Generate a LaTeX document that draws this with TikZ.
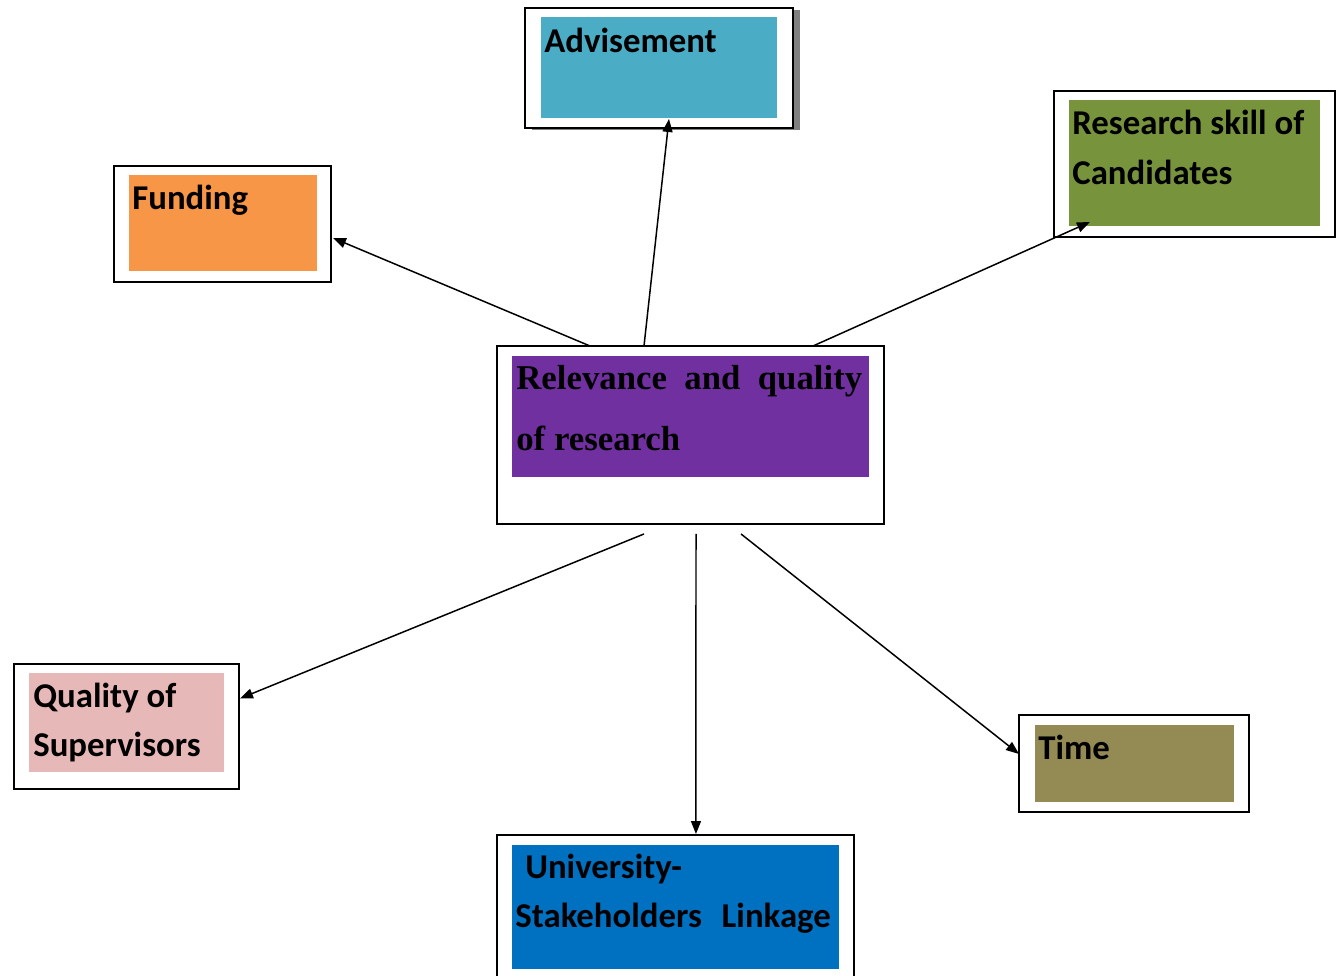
\documentclass[tikz,border=0pt]{standalone}
\usepackage{fontspec}
\setmainfont{Liberation Serif}
\newfontfamily\calibri{Carlito}
\usetikzlibrary{arrows.meta,calc,shadows}

\definecolor{advcol}{HTML}{4BACC6}
\definecolor{fundcol}{HTML}{F79646}
\definecolor{skillcol}{HTML}{77933C}
\definecolor{relcol}{HTML}{7030A0}
\definecolor{qualcol}{HTML}{E6B9B8}
\definecolor{timecol}{HTML}{948A54}
\definecolor{univcol}{HTML}{0070C0}

\tikzstyle{outer} = [draw, line width=1.1pt, fill=white, inner sep=0pt, outer sep=0pt, anchor=north west]
\tikzstyle{inner} = [inner sep=0pt, outer sep=0pt, anchor=north west]
\tikzstyle{lbl} = [inner sep=0pt, anchor=base west, text width=7cm, align=flush left,
  font=\calibri\bfseries\fontsize{19.8}{28.4}\selectfont]
\tikzstyle{arr} = [line width=0.85pt, -{Triangle[length=0.26cm, width=0.2cm]}]

\begin{document}
\begin{tikzpicture}[x=0.02cm, y=-0.02cm]
    \useasboundingbox (0,0) rectangle (1340,976);

    % boxes
    \node[outer, minimum width=5.36cm, minimum height=2.4cm,
      drop shadow={shadow xshift=0.14cm, shadow yshift=-0.04cm, fill=black!50, opacity=1}] (Adv) at (525,8) {};
    \node[outer, minimum width=4.34cm, minimum height=2.32cm] (Fund) at (114,166) {};
    \node[outer, minimum width=5.62cm, minimum height=2.92cm] (Skill) at (1054,91) {};
    \node[outer, minimum width=7.74cm, minimum height=3.56cm] (Rel) at (497,346) {};
    \node[outer, minimum width=4.5cm, minimum height=2.5cm] (Qual) at (14,664) {};
    \node[outer, minimum width=4.6cm, minimum height=1.94cm] (Time) at (1019,715) {};
    \node[outer, minimum width=7.14cm, minimum height=3.1cm] (Univ) at (497,835) {};

    % coloured fills
    \node[inner, fill=advcol, minimum width=4.72cm, minimum height=2.02cm] (AdvF) at (541,17) {};
    \node[inner, fill=fundcol, minimum width=3.76cm, minimum height=1.92cm] (FundF) at (129,175) {};
    \node[inner, fill=skillcol, minimum width=5.02cm, minimum height=2.52cm] (SkillF) at (1069,100) {};
    \node[inner, fill=relcol, minimum width=7.14cm, minimum height=2.42cm] (RelF) at (512,356) {};
    \node[inner, fill=qualcol, minimum width=3.9cm, minimum height=1.98cm] (QualF) at (29,673) {};
    \node[inner, fill=timecol, minimum width=3.98cm, minimum height=1.54cm] (TimeF) at (1035,725) {};
    \node[inner, fill=univcol, minimum width=6.54cm, minimum height=2.48cm] (UnivF) at (512,845) {};

    % texts
    \node[lbl] (AdvT) at (544,53) {Advisement};
    \node[lbl] (FundT) at (132,210) {Funding};
    \node[lbl] (SkillT) at (1072,135) {Research skill of\\Candidates};
    \node[lbl, text width=6.92cm, font=\bfseries\fontsize{19.8}{34.5}\selectfont] (RelT) at (516,390)
      {Relevance\hfill and\hfill quality\\of research};
    \node[lbl] (QualT) at (33,707) {Quality of\\Supervisors};
    \node[lbl] (TimeT) at (1038,759) {Time};
    \node[lbl] (UnivT) at (515,878) {\hspace{0.2cm}University-\\Stakeholders\hspace{0.24cm} Linkage};

    % arrows
    \draw[arr] ($(Rel.north west)+(93,0)$) -- ($(Fund.east)+(2,14)$);
    \draw[arr] ($(Rel.north west)+(147,0)$) -- ($(AdvF.south)+(10,1)$);
    \draw[arr] ($(Rel.north west)+(316,0)$) -- ($(SkillF.south west)+(21,-4)$);
    \draw[arr] ($(Rel.south west)+(147,10)$) -- ($(Qual.east)+(1,-28)$);
    \draw[arr] ($(Rel.south west)+(199,10)$) -- ($(Univ.north)+(20.5,-1)$);
    \draw[arr] ($(Rel.south west)+(244,10)$) -- ($(Time.west)+(0,-9.5)$);
\end{tikzpicture}
\end{document}
